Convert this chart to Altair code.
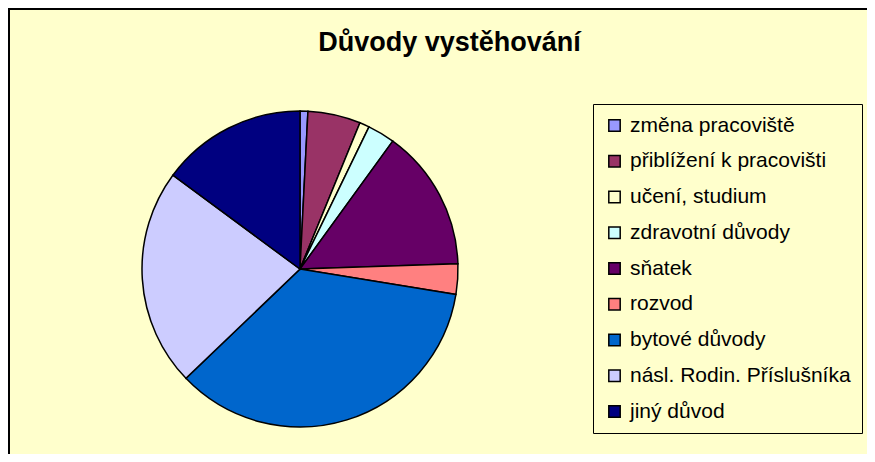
import altair as alt
import pandas as pd

categories = [
    "změna pracoviště",
    "přiblížení k pracovišti",
    "učení, studium",
    "zdravotní důvody",
    "sňatek",
    "rozvod",
    "bytové důvody",
    "násl. Rodin. Příslušníka",
    "jiný důvod",
]
values = [8, 54, 10, 28, 145, 31, 353, 223, 149]
colors = ["#9999FF", "#993366", "#FFFFCC", "#CCFFFF", "#660066",
          "#FF8080", "#0066CC", "#CCCCFF", "#000080"]

df = pd.DataFrame({"duvod": categories, "pocet": values,
                   "poradi": list(range(len(categories)))})

W, H = 859, 446
BG = "#FFFFCC"

pie = alt.Chart(df).mark_arc(radius=158, stroke="black", strokeWidth=1.5).encode(
    theta=alt.Theta("pocet:Q", stack=True),
    order=alt.Order("poradi:Q", sort="ascending"),
    color=alt.Color(
        "duvod:N",
        scale=alt.Scale(domain=categories, range=colors),
        legend=alt.Legend(
            title=None, orient="none", legendX=585, legendY=96,
            fillColor=BG, strokeColor="black", padding=11,
            symbolType="square", symbolSize=130, symbolStrokeColor="black",
            symbolStrokeWidth=1.5, symbolOpacity=1,
            labelFont="Liberation Sans", labelFontSize=21, labelColor="black",
            rowPadding=13.75, labelOffset=5, labelLimit=400,
        ),
    ),
    x=alt.value(292),
    y=alt.value(261),
)

frame_data = alt.Data(values=[{"k": 1}])
left_line = alt.Chart(frame_data).mark_rule(color="black", strokeWidth=2).encode(
    x=alt.value(1), y=alt.value(0), y2=alt.value(H)
)
top_line = alt.Chart(frame_data).mark_rule(color="black", strokeWidth=2).encode(
    x=alt.value(0), x2=alt.value(W), y=alt.value(1)
)

chart = alt.layer(pie, left_line, top_line).properties(
    width=W, height=H,
    autosize=alt.AutoSizeParams(type="none"),
    padding=0,
    background=BG,
    title=alt.TitleParams(
        "Důvody vystěhování", font="Liberation Sans", fontSize=27,
        fontWeight="bold", color="black", anchor="middle", frame="group",
        dx=12, dy=50, offset=0,
    ),
).configure_view(stroke=None)

chart.save("out.html", embed_options={"renderer": "svg", "actions": False})
